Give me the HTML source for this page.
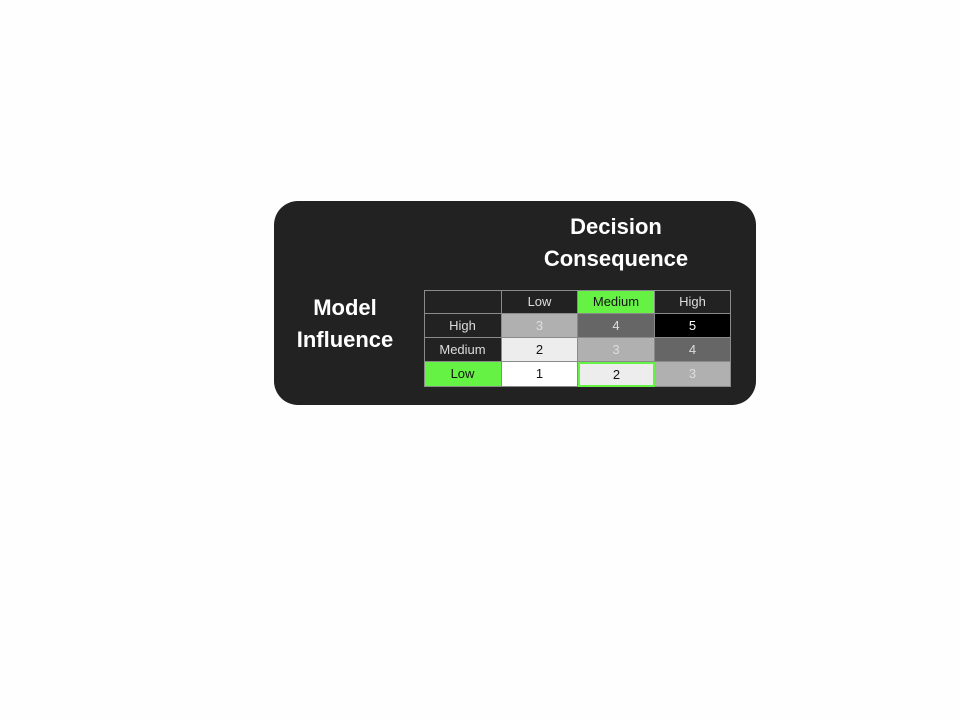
<!DOCTYPE html>
<html><head><meta charset="utf-8"><style>
body{margin:0;width:960px;height:720px;background:#fefefe;position:relative;overflow:hidden;font-family:"Liberation Sans",sans-serif}
#panel{position:absolute;left:274px;top:201px;width:482px;height:204px;background:#222;border-radius:24px}
.title{position:absolute;color:#fff;font-weight:bold;font-size:22px;text-align:center;line-height:32px}
#tbl{position:absolute;left:0;top:0}
.cell{position:absolute;box-sizing:border-box;border-right:1px solid #8a8a8a;border-bottom:1px solid #8a8a8a;text-align:center;font-size:13px;line-height:23px}
#frame{position:absolute;left:424px;top:290px;width:307px;height:97px;box-sizing:border-box;border-top:1px solid #8a8a8a;border-left:1px solid #8a8a8a;pointer-events:none}
</style></head><body>
<div id="panel"></div>
<div class="title" style="left:520px;top:211px;width:192px">Decision<br>Consequence</div>
<div class="title" style="left:280px;top:292px;width:130px">Model<br>Influence</div>
<div id="tbl"></div>
<div id="frame"></div>
<script>
const colLabels=["Low","Medium","High"];
const rowLabels=["High","Medium","Low"];
const values=[[3,4,5],[2,3,4],[1,2,3]];
const highlightCol="Medium";
const highlightRow="Low";
const colX=[424,502,578,655,731];
const rowY=[290,314,338,362,387];
const fill={1:"#ffffff",2:"#ededed",3:"#b0b0b0",4:"#666666",5:"#000000"};
const ink={1:"#111",2:"#111",3:"#ddd",4:"#ddd",5:"#fff"};
const G="#66f244";
const t=document.getElementById('tbl');
function mk(x0,x1,y0,y1,txt,bg,fg){
 const d=document.createElement('div');d.className='cell';
 d.style.left=x0+'px';d.style.top=y0+'px';d.style.width=(x1-x0)+'px';d.style.height=(y1-y0)+'px';
 d.style.background=bg;d.style.color=fg;d.textContent=txt;t.appendChild(d);return d;}
let c0=mk(colX[0],colX[1],rowY[0],rowY[1],"","#222","#fff");


colLabels.forEach((l,i)=>{const h=l===highlightCol;
 const d=mk(colX[i+1],colX[i+2],rowY[0],rowY[1],l,h?G:"#222",h?"#111":"#ddd");
 
 });
rowLabels.forEach((l,r)=>{const h=l===highlightRow;
 const d=mk(colX[0],colX[1],rowY[r+1],rowY[r+2],l,h?G:"#222",h?"#111":"#ddd");
 
 
 values[r].forEach((v,c)=>{
  const e=mk(colX[c+1],colX[c+2],rowY[r+1],rowY[r+2],v,fill[v],ink[v]);
  if(l===highlightRow&&colLabels[c]===highlightCol){e.style.border="2px solid "+G;e.style.lineHeight="21px";}
  
  
 });});
</script>
</body></html>
